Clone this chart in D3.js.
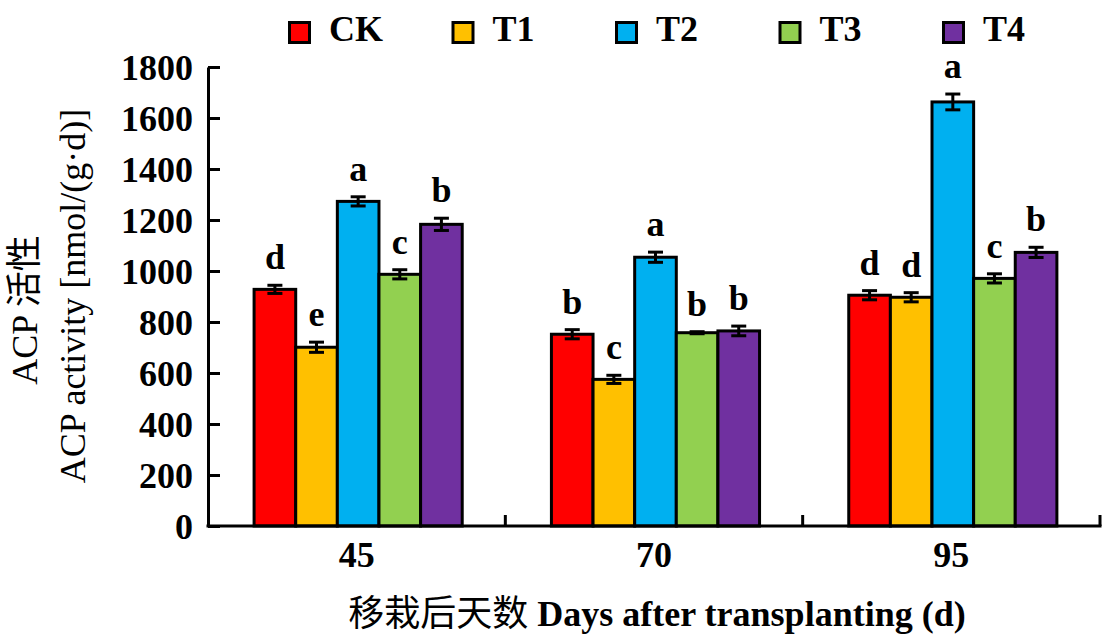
<!DOCTYPE html>
<html>
<head>
<meta charset="utf-8">
<script src="https://cdn.jsdelivr.net/npm/d3@7"></script>
<style>
  html, body { margin: 0; padding: 0; background: #fff; }
  svg { display: block; }
  text { font-family: "Liberation Serif", "Times New Roman", "Noto Sans CJK SC", serif; fill: #000; }
</style>
</head>
<body>
<svg id="chart" width="1117" height="644"></svg>
<script>
// ---- data ----
const groups = ["45", "70", "95"];
const seriesNames = ["CK", "T1", "T2", "T3", "T4"];
const seriesColors = ["#FF0000", "#FFC000", "#00B0F0", "#92D050", "#7030A0"];
const valCK = [928, 752, 905];
const valT1 = [701, 575, 897];
const valT2 = [1273, 1054, 1663];
const valT3 = [987, 758, 971];
const valT4 = [1183, 765, 1073];
const errCK = [16, 18, 18];
const errT1 = [20, 16, 18];
const errT2 = [18, 20, 31];
const errT3 = [18, 4, 18];
const errT4 = [24, 19, 20];
const sigCK = ["d", "b", "d"];
const sigT1 = ["e", "c", "d"];
const sigT2 = ["a", "a", "a"];
const sigT3 = ["c", "b", "c"];
const sigT4 = ["b", "b", "b"];
const yTicks = [0, 200, 400, 600, 800, 1000, 1200, 1400, 1600, 1800];
const xTitleCn = "移栽后天数";
const xTitleEn = " Days after transplanting (d)";
const yTitle1 = "ACP 活性";
const yTitle2 = "ACP activity [nmol/(g·d)]";

const values = [valCK, valT1, valT2, valT3, valT4];
const errors = [errCK, errT1, errT2, errT3, errT4];
const sigs = [sigCK, sigT1, sigT2, sigT3, sigT4];

const rows = [];
groups.forEach((g, gi) => {
  seriesNames.forEach((s, si) => {
    rows.push({ group: g, series: s, color: seriesColors[si], value: values[si][gi], err: errors[si][gi], sig: sigs[si][gi] });
  });
});

// ---- layout ----
const svg = d3.select("#chart");
const pL = 208, pR = 1100, pT = 67, pB = 526;

const x0 = d3.scaleBand().domain(groups).range([pL, pR]).padding(0);
const bw = x0.bandwidth();
const x1 = d3.scaleBand().domain(seriesNames).range([bw * 0.155, bw * 0.855]).padding(0);
const y = d3.scaleLinear().domain([0, 1800]).range([pB, pT]);

// bars
const g = svg.append("g");
g.selectAll("rect.bar").data(rows).join("rect")
  .attr("class", "bar")
  .attr("x", d => x0(d.group) + x1(d.series))
  .attr("y", d => y(d.value))
  .attr("width", x1.bandwidth())
  .attr("height", d => y(0) - y(d.value))
  .attr("fill", d => d.color)
  .attr("stroke", "#000")
  .attr("stroke-width", 3);

// error bars
const capW = 15;
const eb = g.selectAll("g.err").data(rows).join("g").attr("class", "err")
  .attr("transform", d => `translate(${x0(d.group) + x1(d.series) + x1.bandwidth() / 2},0)`);
eb.append("line").attr("x1", 0).attr("x2", 0)
  .attr("y1", d => y(d.value + d.err)).attr("y2", d => y(d.value - d.err))
  .attr("stroke", "#000").attr("stroke-width", 3);
eb.append("line").attr("x1", -capW / 2).attr("x2", capW / 2)
  .attr("y1", d => y(d.value + d.err)).attr("y2", d => y(d.value + d.err))
  .attr("stroke", "#000").attr("stroke-width", 3);
eb.append("line").attr("x1", -capW / 2).attr("x2", capW / 2)
  .attr("y1", d => y(d.value - d.err)).attr("y2", d => y(d.value - d.err))
  .attr("stroke", "#000").attr("stroke-width", 3);
eb.append("text")
  .attr("x", 0)
  .attr("y", d => y(d.value + d.err) - 16)
  .attr("text-anchor", "middle")
  .attr("font-size", 36)
  .attr("font-weight", "bold")
  .text(d => d.sig);

// y axis
const yAxis = d3.axisLeft(y).tickValues(yTicks).tickFormat(d3.format("d"))
  .tickSizeInner(-12).tickSizeOuter(0).tickPadding(15);
const ya = svg.append("g").attr("transform", `translate(${pL},0)`).call(yAxis);
ya.select(".domain").attr("stroke", "#000").attr("stroke-width", 3);
ya.selectAll(".tick line").attr("stroke", "#000").attr("stroke-width", 3);
ya.selectAll(".tick text").attr("font-size", 36).attr("font-weight", "bold")
  .attr("font-family", "Liberation Serif").attr("dy", "0.34em");

// x axis
const xa = svg.append("g");
xa.append("line").attr("x1", pL - 1.5).attr("x2", pR + 1.5).attr("y1", pB).attr("y2", pB)
  .attr("stroke", "#000").attr("stroke-width", 3);
const seps = groups.map(gr => x0(gr) + bw);
xa.selectAll("line.sep").data(seps).join("line").attr("class", "sep")
  .attr("x1", d => d).attr("x2", d => d).attr("y1", pB).attr("y2", pB - 11)
  .attr("stroke", "#000").attr("stroke-width", 3);
xa.selectAll("text.xl").data(groups).join("text").attr("class", "xl")
  .attr("x", d => x0(d) + bw / 2).attr("y", 567)
  .attr("text-anchor", "middle").attr("font-size", 36).attr("font-weight", "bold")
  .text(d => d);

// axis titles
const xt = svg.append("text").attr("x", 657).attr("y", 626).attr("text-anchor", "middle")
  .attr("font-size", 36);
xt.append("tspan").attr("font-family", "Noto Sans CJK SC").attr("font-weight", "normal").text(xTitleCn);
xt.append("tspan").attr("font-weight", "bold").text(xTitleEn);
svg.append("text").attr("transform", "translate(37,310) rotate(-90)").attr("text-anchor", "middle")
  .attr("font-size", 36).text(yTitle1);
svg.append("text").attr("transform", "translate(85,296) rotate(-90)").attr("text-anchor", "middle")
  .attr("font-size", 36).text(yTitle2);

// legend
const lx = d3.scalePoint().domain(seriesNames).range([288, 942]);
const leg = svg.append("g").selectAll("g").data(seriesNames).join("g")
  .attr("transform", d => `translate(${lx(d)},0)`);
leg.append("rect").attr("x", 1.5).attr("y", 22.5).attr("width", 20).attr("height", 20)
  .attr("fill", (d, i) => seriesColors[i]).attr("stroke", "#000").attr("stroke-width", 3);
leg.append("text").attr("x", 41).attr("y", 41).attr("font-size", 36).attr("font-weight", "bold")
  .text(d => d);
</script>
</body>
</html>
